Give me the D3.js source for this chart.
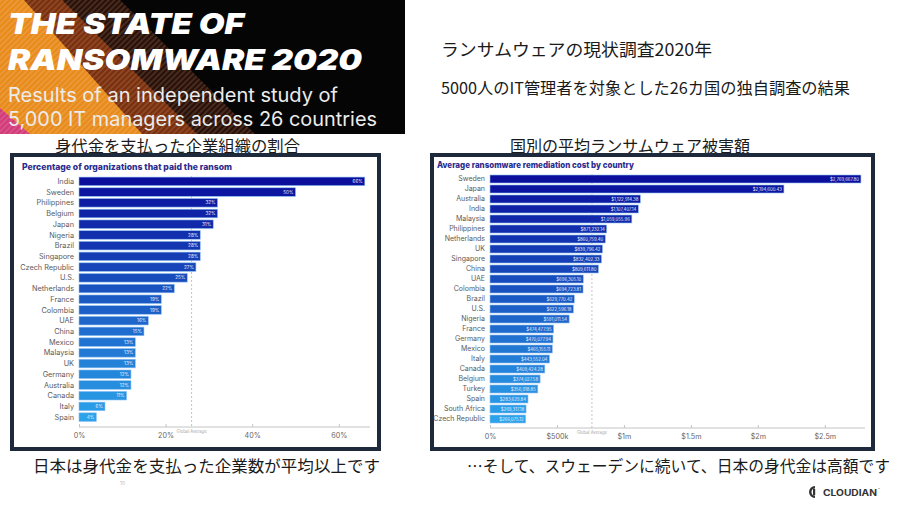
<!DOCTYPE html>
<html><head><meta charset="utf-8">
<script src="https://cdn.jsdelivr.net/npm/d3@7"></script>
<style>html,body{margin:0;padding:0;background:#fff;}svg{display:block;}</style>
</head><body>
<script>
// ---- data ----
const paidCountries = ["India","Sweden","Philippines","Belgium","Japan","Nigeria","Brazil","Singapore","Czech Republic","U.S.","Netherlands","France","Colombia","UAE","China","Mexico","Malaysia","UK","Germany","Australia","Canada","Italy","Spain"];
const paidValues = [66,50,32,32,31,28,28,28,27,25,22,19,19,16,15,13,13,13,12,12,11,6,4];
const paidTicks = [0,20,40,60];
const paidAverage = 26;

const costCountries = ["Sweden","Japan","Australia","India","Malaysia","Philippines","Netherlands","UK","Singapore","China","UAE","Colombia","Brazil","U.S.","Nigeria","France","Germany","Mexico","Italy","Canada","Belgium","Turkey","Spain","South Africa","Czech Republic"];
const costValues = [2769667.80,2194600.43,1122914.38,1107407.14,1059055.96,871232.14,860759.40,839796.42,832402.33,809611.80,696305.10,694723.81,629770.42,622596.18,591011.54,474477.95,470077.94,465155.11,443552.04,409424.28,374027.58,356918.85,283629.84,269317.18,266075.12];
const costTicks = [0,500000,1000000,1500000,2000000,2500000];
const costTickLabels = ["0%","$500k","$1m","$1.5m","$2m","$2.5m"];
const costAverage = 761106;

const W = 904, H = 509;
const svg = d3.select("body").append("svg").attr("width", W).attr("height", H);
svg.append("rect").attr("width", W).attr("height", H).attr("fill", "#fff");

const jp = "'Noto Sans CJK JP', 'Noto Sans', sans-serif";
const sans = "Inter, 'Open Sans', 'DejaVu Sans', sans-serif";

// ---- banner ----
const banner = svg.append("g");
banner.append("rect").attr("x",0).attr("y",0).attr("width",405).attr("height",134).attr("fill","#050505");
const defs = svg.append("defs");
const pat = defs.append("pattern").attr("id","stripes").attr("width",4).attr("height",4)
  .attr("patternUnits","userSpaceOnUse").attr("patternTransform","rotate(45)");
pat.append("rect").attr("width",2).attr("height",4).attr("fill","rgba(255,255,255,0.12)");
const bands = [
  {pts:[[60,0],[120,0],[255,134],[195,134]], c:"#2a0f04"},
  {pts:[[22,0],[62,0],[197,134],[140,134]], c:"#7a2e0a"},
  {pts:[[0,0],[24,0],[142,134],[0,134]], c:"#e88a1a"},
  {pts:[[0,108],[30,134],[0,134]], c:"#d23a78"}
];
bands.forEach(b=>{
  banner.append("polygon").attr("points", b.pts.map(p=>p.join(",")).join(" ")).attr("fill", b.c);
  banner.append("polygon").attr("points", b.pts.map(p=>p.join(",")).join(" ")).attr("fill", "url(#stripes)");
});
banner.append("text").attr("x",8).attr("y",34).attr("font-family",sans).attr("font-weight",900)
  .attr("font-style","italic").attr("font-size",29).attr("fill","#fff")
  .attr("textLength",236).attr("lengthAdjust","spacingAndGlyphs").text("THE STATE OF");
banner.append("text").attr("x",8).attr("y",70).attr("font-family",sans).attr("font-weight",900)
  .attr("font-style","italic").attr("font-size",29).attr("fill","#fff")
  .attr("textLength",354).attr("lengthAdjust","spacingAndGlyphs").text("RANSOMWARE 2020");
banner.append("text").attr("x",8).attr("y",102).attr("font-family",sans).attr("font-weight",400)
  .attr("font-size",20).attr("fill","#ececec")
  .attr("textLength",330).attr("lengthAdjust","spacingAndGlyphs").text("Results of an independent study of");
banner.append("text").attr("x",8).attr("y",126).attr("font-family",sans).attr("font-weight",400)
  .attr("font-size",20).attr("fill","#ececec")
  .attr("textLength",369).attr("lengthAdjust","spacingAndGlyphs").text("5,000 IT managers across 26 countries");

// ---- Japanese texts ----
function jtext(x,y,size,str,len,anchor){
  const t = svg.append("text").attr("x",x).attr("y",y).attr("font-family",jp).attr("font-size",size)
    .attr("fill","#1a1a1a").attr("text-anchor",anchor||"start").text(str);
  if(len) t.attr("textLength",len).attr("lengthAdjust","spacingAndGlyphs");
  return t;
}
jtext(441,56,17.5,"ランサムウェアの現状調査2020年",271);
jtext(441,94,16,"5000人のIT管理者を対象とした26カ国の独自調査の結果",409);
jtext(55,152,16,"身代金を支払った企業組織の割合",245);
jtext(510,152,16,"国別の平均ランサムウェア被害額",240);
jtext(33,472,16,"日本は身代金を支払った企業数が平均以上です",347);
jtext(467,472,16,"…そして、スウェーデンに続いて、日本の身代金は高額です",423);
svg.append("text").attr("x",120).attr("y",485).attr("font-family",sans).attr("font-size",5)
  .attr("fill","#bbb").text("10");

// ---- chart builder ----
function barChart(opt){
  const g = svg.append("g");
  g.append("rect").attr("x",opt.box[0]).attr("y",opt.box[1]).attr("width",opt.box[2]).attr("height",opt.box[3])
    .attr("fill","#fff").attr("stroke","#1e2a3c").attr("stroke-width",4);
  g.append("text").attr("x",opt.titleX).attr("y",opt.titleY).attr("font-family",sans).attr("font-weight",800)
    .attr("font-size",8.6).attr("fill","#2b2b8c").attr("textLength",opt.titleLen).attr("lengthAdjust","spacingAndGlyphs")
    .text(opt.title);
  const x = d3.scaleLinear().domain(opt.domain).range(opt.xRange);
  const y = d3.scaleBand().domain(opt.cats).range(opt.yRange).paddingInner(0.2).paddingOuter(0.1);
  const n = opt.cats.length;
  const color = i => d3.interpolateRgb("#0b0f9c","#2ba2ea")(i/(n-1));
  const axisY = opt.axisY;
  const ax = g.append("g").attr("transform",`translate(0,${axisY})`)
    .call(d3.axisBottom(x).tickValues(opt.ticks).tickFormat((d,i)=>opt.tickLabels[i]).tickSize(-3).tickPadding(6));
  ax.select(".domain").attr("stroke","#c4c4c4").attr("d",`M${opt.xRange[0]},0H${opt.xRange[1]}`);
  ax.selectAll(".tick line").attr("stroke","#c4c4c4");
  ax.selectAll(".tick text").attr("font-family",sans).attr("font-size",7.2).attr("fill","#666");
  const ax0 = x(opt.avg);
  g.append("line").attr("x1",ax0).attr("x2",ax0).attr("y1",opt.yRange[0]).attr("y2",axisY)
    .attr("stroke","#b5b5b5").attr("stroke-width",0.8).attr("stroke-dasharray","2,2");
  g.append("text").attr("x",ax0).attr("y",axisY+6).attr("text-anchor","middle").attr("font-family",sans)
    .attr("font-size",4.2).attr("fill","#aaa").text("Global Average");
  g.selectAll("rect.bar").data(opt.cats).join("rect").attr("class","bar")
    .attr("x",x(0)).attr("y",d=>y(d)).attr("width",(d,i)=>x(opt.values[i])-x(0)).attr("height",y.bandwidth())
    .attr("fill",(d,i)=>color(i)).attr("stroke","#8fc0f2").attr("stroke-width",0.6);
  g.selectAll("text.cat").data(opt.cats).join("text").attr("class","cat")
    .attr("x",opt.labelX).attr("y",d=>y(d)+y.bandwidth()/2).attr("dy","0.35em").attr("text-anchor","end")
    .attr("font-family",sans).attr("font-size",opt.catSize).attr("fill","#5a5a5a").text(d=>d);
  g.selectAll("text.val").data(opt.cats).join("text").attr("class","val")
    .attr("x",(d,i)=>x(opt.values[i])-2).attr("y",d=>y(d)+y.bandwidth()/2).attr("dy","0.35em").attr("text-anchor","end")
    .attr("font-family",sans).attr("font-size",opt.valSize).attr("fill","#e8f0ff")
    .text((d,i)=>opt.fmt(opt.values[i]));
}

barChart({
  box:[12,155,367,294], title:"Percentage of organizations that paid the ransom", titleX:22, titleY:170, titleLen:210,
  cats:paidCountries, values:paidValues, domain:[0,67.2], xRange:[79,370], yRange:[176,422.5],
  ticks:paidTicks, tickLabels:paidTicks.map(d=>d+"%"), axisY:427, avg:paidAverage, labelX:74,
  catSize:7.3, valSize:4.6, fmt:d=>d+"%"
});
barChart({
  box:[432,155,441,294], title:"Average ransomware remediation cost by country", titleX:437, titleY:168, titleLen:197,
  cats:costCountries, values:costValues, domain:[0,2.8e6], xRange:[490,865], yRange:[174,424],
  ticks:costTicks, tickLabels:costTickLabels, axisY:428, avg:costAverage, labelX:485,
  catSize:7, valSize:4.3, fmt:d3.format("$,.2f")
});

// ---- Cloudian logo ----
const logo = svg.append("g").attr("transform","translate(808,485)");
logo.append("path").attr("d","M7,1 A6,6 0 1 0 7,13 L7,10.5 A3.5,3.5 0 1 1 7,3.5 Z").attr("fill","#333");
logo.append("rect").attr("x",5).attr("y",4).attr("width",2.2).attr("height",6).attr("fill","#333");
logo.append("text").attr("x",15).attr("y",11).attr("font-family",sans).attr("font-weight",700)
  .attr("font-size",8.5).attr("fill","#333").attr("textLength",54).attr("lengthAdjust","spacingAndGlyphs").text("CLOUDIAN");
logo.append("text").attr("x",70).attr("y",6).attr("font-family",sans).attr("font-size",3).attr("fill","#333").text("™");
</script>
</body></html>
